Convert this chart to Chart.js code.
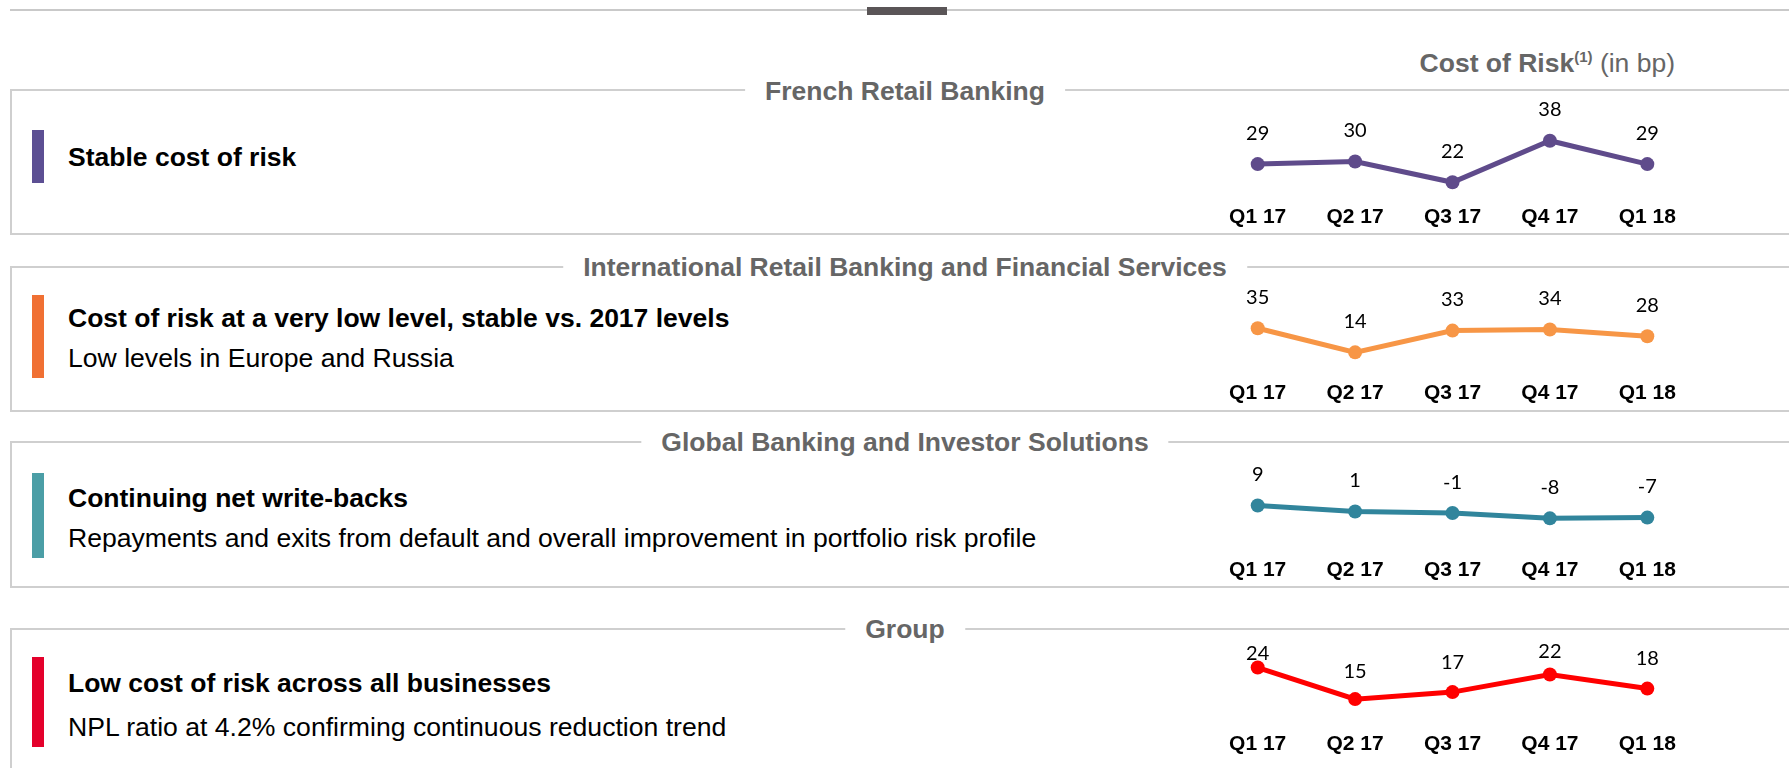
<!DOCTYPE html>
<html>
<head>
<meta charset="utf-8">
<script src="https://cdn.jsdelivr.net/npm/chart.js@4.4.1/dist/chart.umd.min.js"></script>
<style>
  body { margin: 0; background: #fff; font-family: "Liberation Sans", Arial, sans-serif; }
  #page { position: relative; width: 1789px; height: 768px; overflow: hidden; }
  .hline { position: absolute; height: 0; border-top: 2px solid #c9c9c9; }
  .box { position: absolute; left: 10px; right: -10px; border: 2px solid #cfcfcf; border-right: none; }
  .sectitle { position: absolute; left: 905px; transform: translate(-50%, -50%); background: #fff;
              padding: 0 20px; font-weight: bold; font-size: 26.5px; color: #666; white-space: nowrap; }
  .bar { position: absolute; left: 32px; width: 12px; }
  .bold { position: absolute; left: 68px; font-weight: bold; font-size: 26.5px; line-height: 30px; color: #000; white-space: nowrap; }
  .reg { position: absolute; left: 68px; font-size: 26.6px; line-height: 30px; color: #000; white-space: nowrap; }
  canvas { position: absolute; }
</style>
</head>
<body>
<div id="page">
  <div class="hline" style="left:10px; right:0; top:9px;"></div>
  <div style="position:absolute; left:867px; top:7px; width:80px; height:8px; background:#5a5557;"></div>

  <div style="position:absolute; right:114px; top:48px; font-size:26.5px; color:#666; white-space:nowrap;">
    <b>Cost of Risk<sup style="font-size:15px;">(1)</sup></b> (in bp)
  </div>

  <!-- French Retail Banking -->
  <div class="box" style="top:89px; height:142px;"></div>
  <div class="sectitle" style="top:91px;">French Retail Banking</div>
  <div class="bar" style="top:130px; height:53px; background:#5c4f93;"></div>
  <div class="bold" style="top:142px;">Stable cost of risk</div>
  <canvas id="c1" width="535" height="138" style="left:1186px; top:95px;"></canvas>

  <!-- International Retail Banking -->
  <div class="box" style="top:266px; height:142px;"></div>
  <div class="sectitle" style="top:267px;">International Retail Banking and Financial Services</div>
  <div class="bar" style="top:295px; height:83px; background:#f07033;"></div>
  <div class="bold" style="top:303px;">Cost of risk at a very low level, stable vs. 2017 levels</div>
  <div class="reg" style="top:343px;">Low levels in Europe and Russia</div>
  <canvas id="c2" width="535" height="137" style="left:1186px; top:272px;"></canvas>

  <!-- Global Banking -->
  <div class="box" style="top:441px; height:143px;"></div>
  <div class="sectitle" style="top:442px;">Global Banking and Investor Solutions</div>
  <div class="bar" style="top:473px; height:85px; background:#4b9ea6;"></div>
  <div class="bold" style="top:483px;">Continuing net write-backs</div>
  <div class="reg" style="top:523px;">Repayments and exits from default and overall improvement in portfolio risk profile</div>
  <canvas id="c3" width="535" height="138" style="left:1186px; top:448px;"></canvas>

  <!-- Group -->
  <div class="box" style="top:628px; height:200px;"></div>
  <div class="sectitle" style="top:629px;">Group</div>
  <div class="bar" style="top:657px; height:90px; background:#e4002b;"></div>
  <div class="bold" style="top:668px;">Low cost of risk across all businesses</div>
  <div class="reg" style="top:712px;">NPL ratio at 4.2% confirming continuous reduction trend</div>
  <canvas id="c4" width="535" height="126" style="left:1186px; top:634px;"></canvas>
</div>

<script>
// quarters on the x axis
var trimestres = ["Q1 17", "Q2 17", "Q3 17", "Q4 17", "Q1 18"];

// cost of risk in bp, one list per business
var frenchRetail = [29, 30, 22, 38, 29];
var intlRetail = [35, 14, 33, 34, 28];
var globalBanking = [9, 1, -1, -8, -7];
var groupe = [24, 15, 17, 22, 18];

// draws the value above every point
var rotulosPlugin = {
    id: "rotulos",
    afterDatasetsDraw: function (chart) {
        var opts = chart.options.plugins.rotulos;
        var ctx = chart.ctx;
        var meta = chart.getDatasetMeta(0);
        var valores = chart.data.datasets[0].data;
        ctx.save();
        ctx.font = "20px Lato, 'Open Sans', sans-serif";
        ctx.fillStyle = "#000";
        ctx.textAlign = "center";
        ctx.textBaseline = "middle";
        for (var i = 0; i < meta.data.length; i++) {
            var off = opts.offsets ? opts.offsets[i] : 31;
            ctx.fillText(valores[i], meta.data[i].x, meta.data[i].y - off);
        }
        ctx.restore();
    }
};

function plotarGrafico(id, valores, cor, minY, maxY, offsets) {
    var ctx = document.getElementById(id).getContext("2d");
    new Chart(ctx, {
        type: "line",
        data: {
            labels: trimestres,
            datasets: [{
                data: valores,
                borderColor: cor,
                backgroundColor: cor,
                borderWidth: 5,
                pointRadius: 7,
                pointBorderWidth: 0,
                tension: 0,
                clip: false
            }]
        },
        options: {
            responsive: false,
            animation: false,
            devicePixelRatio: 1,
            layout: { padding: { left: 23, right: 25, top: 0, bottom: 0 } },
            scales: {
                x: {
                    offset: true,
                    grid: { display: false, drawTicks: false },
                    border: { display: false },
                    ticks: {
                        color: "#000",
                        padding: 3,
                        maxRotation: 0,
                        autoSkip: false,
                        font: { family: "'Liberation Sans', Arial", size: 21, weight: "bold" }
                    }
                },
                y: { display: false, min: minY, max: maxY }
            },
            plugins: {
                legend: { display: false },
                tooltip: { enabled: false },
                rotulos: { offsets: offsets }
            }
        },
        plugins: [rotulosPlugin]
    });
}

plotarGrafico("c1", frenchRetail, "#5f4b8b", 14.5, 52.9);
plotarGrafico("c2", intlRetail, "#f79646", -8.2, 78.0);
plotarGrafico("c3", globalBanking, "#31859c", -56.0, 75.5);
plotarGrafico("c4", groupe, "#ff0000", 6.55, 31.55, [14, 28, 30, 23, 30]);
</script>
</body>
</html>
